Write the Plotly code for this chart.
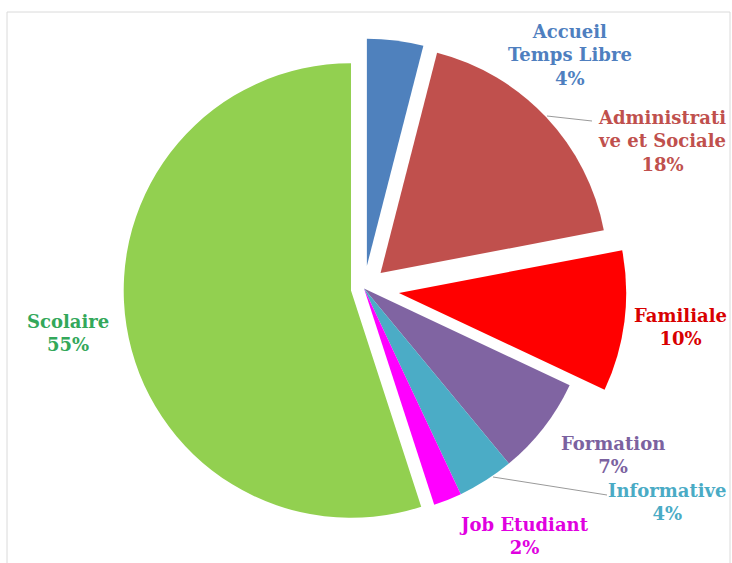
import plotly.graph_objects as go

W, H = 732, 563

categories = ["Accueil Temps Libre", "Administrative et Sociale", "Familiale",
              "Formation", "Informative", "Job Etudiant", "Scolaire"]
values = [4, 18, 10, 7, 4, 2, 55]
label_lines = [["Accueil", "Temps Libre"], ["Administrati", "ve et Sociale"], ["Familiale"],
               ["Formation"], ["Informative"], ["Job Etudiant"], ["Scolaire"]]
slice_colors = ["#4F81BD", "#C0504D", "#FF0000", "#8064A2", "#4BACC6", "#FF00FF", "#92D050"]
text_colors = ["#4F7FBF", "#C0504D", "#D80000", "#7B62A0", "#4AABC5", "#E000E0", "#33A85A"]
pulls = [0.10, 0.10, 0.155, 0, 0, 0, 0.058]

# label block centers in pixels
label_pos = [(570, 55), (662, 141), (680, 327), (613, 455), (667, 502), (524, 536), (68, 333)]

def px(x):
    return x / W

def py(y):
    return 1 - y / H

fig = go.Figure()
fig.add_trace(go.Pie(
    labels=categories, values=values, sort=False, direction="clockwise", rotation=0,
    marker=dict(colors=slice_colors, line=dict(width=0)),
    pull=pulls, textinfo="none", hoverinfo="label+percent", showlegend=False,
    domain=dict(x=[px(101), px(627)], y=[py(551), py(26)]),
))

total = sum(values)
annotations = []
for lines, v, c, (x, y) in zip(label_lines, values, text_colors, label_pos):
    txt = "<br>".join(lines + [f"{round(100 * v / total)}%"])
    annotations.append(dict(
        x=px(x), y=py(y), xref="paper", yref="paper", text=txt, showarrow=False,
        xanchor="center", yanchor="middle", align="center",
        font=dict(family="DejaVu Serif", size=18, color=c, weight="bold"),
    ))

shapes = [
    dict(type="rect", xref="paper", yref="paper", x0=px(7), x1=px(730), y0=py(566), y1=py(12),
         line=dict(color="#DADADA", width=1)),
    dict(type="line", xref="paper", yref="paper", x0=px(547), y0=py(116), x1=px(592), y1=py(121),
         line=dict(color="#9A9A9A", width=1)),
    dict(type="line", xref="paper", yref="paper", x0=px(493), y0=py(477), x1=px(607), y1=py(495),
         line=dict(color="#9A9A9A", width=1)),
]

fig.update_layout(
    width=W, height=H, margin=dict(l=0, r=0, t=0, b=0),
    paper_bgcolor="white", plot_bgcolor="white",
    annotations=annotations, shapes=shapes,
)
fig.write_html("out.html")
